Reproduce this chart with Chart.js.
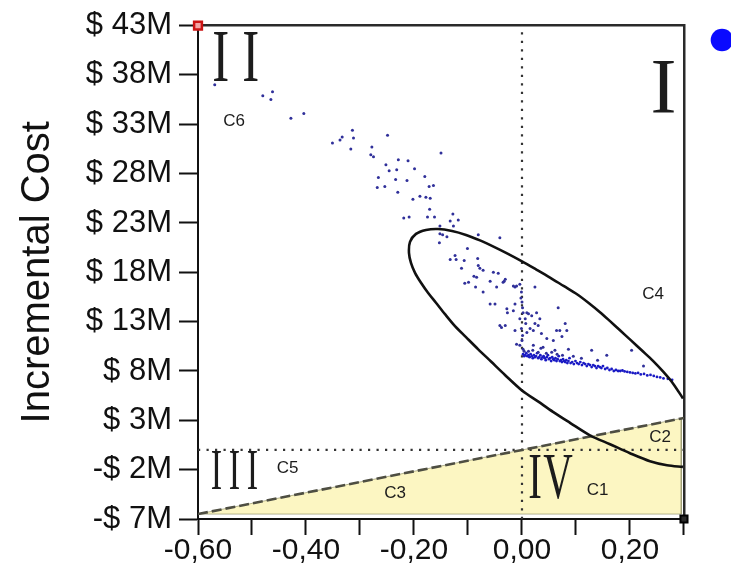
<!DOCTYPE html>
<html>
<head>
<meta charset="utf-8">
<script src="https://cdn.jsdelivr.net/npm/chart.js@4.4.0/dist/chart.umd.min.js"></script>
<style>
  html, body { margin: 0; padding: 0; background: #ffffff; }
  canvas { display: block; }
</style>
</head>
<body>
<canvas id="plane" width="731" height="575"></canvas>
<script>
// Axis limits and tick spacing
const effectRange = [-0.6, 0.3];
const costRange = [-7, 43];
const effectStep = 0.1;
const costStep = 5;

// Simulated (incremental effect, incremental cost in $M) pairs - spread part
const cloudEffect = [
  -0.569, -0.480, -0.462, -0.465, -0.428, -0.404, -0.351, -0.337, -0.333, -0.314,
  -0.312, -0.317, -0.278, -0.280, -0.275, -0.249, -0.252, -0.229, -0.211, -0.246,
  -0.232, -0.199, -0.266, -0.234, -0.213, -0.180, -0.268, -0.254, -0.230, -0.172,
  -0.164, -0.150, -0.202, -0.189, -0.178, -0.170, -0.171, -0.219, -0.209, -0.175,
  -0.162, -0.152, -0.133, -0.128, -0.118, -0.127, -0.152, -0.147, -0.139, -0.081,
  -0.041, -0.153, -0.101, -0.133, -0.124, -0.122, -0.107, -0.082, -0.081, -0.078,
  -0.072, -0.112, -0.089, -0.084, -0.053, -0.044, -0.106, -0.099, -0.086, -0.059,
  -0.047, -0.035, -0.013, -0.010, 0.024, -0.072, -0.031, -0.016, -0.004, -0.033,
  -0.059, -0.050, -0.028, -0.027, -0.013, -0.001, -0.002, 0.001, 0.009, 0.018,
  0.027, 0.067, -0.041, -0.031, -0.004, 0.007, 0.015, 0.030, 0.080, 0.070,
  -0.013, -0.038, -0.016, 0.002, 0.012, 0.006, 0.024, 0.033, -0.001, 0.009,
  0.021, 0.036, 0.064, 0.083, 0.046, 0.058, 0.074, -0.010, -0.004, 0.021,
  0.039, 0.061, 0.086, 0.129, 0.157, 0.203, 0.225, 0.000, 0.001, 0.000,
  0.002, 0.004, 0.012, 0.020, 0.030, 0.035, 0.045, 0.055, 0.065, 0.075,
  0.095, 0.110, 0.140
];
const cloudCost = [
  37.0, 35.9, 36.3, 35.5, 33.6, 34.1, 31.1, 31.4, 31.7, 32.4,
  31.6, 30.5, 30.7, 29.9, 29.7, 31.9, 28.9, 29.4, 29.3, 28.3,
  28.4, 28.5, 27.6, 27.4, 27.3, 27.7, 26.6, 26.7, 26.1, 26.7,
  26.8, 30.1, 25.4, 25.7, 25.6, 25.5, 24.4, 23.5, 23.6, 23.6,
  23.6, 22.7, 23.2, 23.9, 23.3, 22.7, 21.9, 21.8, 21.6, 21.8,
  21.5, 21.0, 20.4, 19.3, 19.7, 19.3, 19.2, 19.4, 18.7, 18.4,
  18.2, 18.4, 17.6, 17.5, 18.0, 17.9, 16.9, 17.0, 16.5, 17.1,
  16.5, 17.0, 16.5, 16.6, 16.5, 16.0, 17.3, 16.6, 16.8, 17.1,
  14.8, 14.8, 14.3, 13.9, 14.8, 16.0, 15.4, 14.4, 13.9, 13.6,
  13.9, 14.4, 12.6, 12.6, 13.3, 12.8, 12.3, 12.6, 12.8, 12.1,
  12.1, 12.4, 14.1, 13.9, 13.8, 13.3, 12.8, 13.3, 12.3, 11.9,
  12.1, 11.8, 12.1, 12.1, 11.3, 11.1, 11.5, 10.7, 10.6, 10.6,
  10.4, 10.1, 10.2, 10.1, 9.6, 10.1, 8.5, 15.0, 11.6, 11.1,
  10.2, 10.0, 10.0, 10.1, 9.9, 10.3, 9.8, 9.9, 9.7, 9.6,
  9.5, 9.3, 9.1
];

// Dense run of simulations just right of zero effect
const bandEffect = [
  0.002, 0.004, 0.006, 0.008, 0.010, 0.012, 0.014, 0.016, 0.018, 0.020,
  0.022, 0.024, 0.026, 0.028, 0.030, 0.032, 0.034, 0.036, 0.038, 0.040,
  0.042, 0.044, 0.046, 0.048, 0.050, 0.052, 0.054, 0.056, 0.058, 0.060,
  0.062, 0.064, 0.066, 0.068, 0.070, 0.072, 0.074, 0.076, 0.078, 0.080,
  0.082, 0.084, 0.086, 0.088, 0.090, 0.093, 0.096, 0.099, 0.102, 0.105,
  0.108, 0.111, 0.114, 0.117, 0.120, 0.123, 0.126, 0.129, 0.132, 0.135,
  0.138, 0.141, 0.144, 0.147, 0.150, 0.154, 0.158, 0.162, 0.166, 0.170,
  0.174, 0.178, 0.182, 0.186, 0.190, 0.195, 0.200, 0.205, 0.210, 0.215,
  0.220, 0.226, 0.232, 0.238, 0.244, 0.250, 0.256, 0.262, 0.270, 0.278
];
const bandCost = [
  9.7, 9.5, 9.6, 9.8, 9.5, 9.6, 9.4, 9.7, 9.5, 9.3,
  9.6, 9.4, 9.5, 9.8, 9.3, 9.4, 9.6, 9.2, 9.4, 9.5,
  9.3, 9.1, 9.4, 9.6, 9.2, 9.3, 9.0, 9.4, 9.2, 9.1,
  9.3, 9.0, 9.2, 9.5, 9.0, 9.1, 8.9, 9.2, 9.0, 8.9,
  9.1, 8.8, 9.0, 9.3, 8.8, 8.9, 8.7, 9.0, 8.8, 8.7,
  8.9, 8.6, 8.8, 8.7, 8.5, 8.7, 8.6, 8.4, 8.6, 8.5,
  8.3, 8.5, 8.4, 8.3, 8.5, 8.2, 8.3, 8.1, 8.2, 8.0,
  8.1, 8.0, 8.0, 8.05, 7.95, 7.9, 7.85, 7.8, 7.75, 7.8,
  7.65, 7.7, 7.55, 7.6, 7.5, 7.4, 7.35, 7.25, 7.2, 7.1
];

// Confidence ellipse outline (clipped by the right border)
const ellipseEffect = [
  0.2981, 0.2685, 0.2370, 0.2000, 0.1630, 0.1259, 0.0889, 0.0574, 0.0296, 0.0000,
  -0.0315, -0.0574, -0.0815, -0.1037, -0.1241, -0.1426, -0.1593, -0.1741, -0.1870, -0.1981,
  -0.2056, -0.2093, -0.2074, -0.1963, -0.1778, -0.1556, -0.1296, -0.1037, -0.0778, -0.0519,
  -0.0259, 0.0000, 0.0259, 0.0519, 0.0778, 0.1019, 0.1241, 0.1444, 0.1630, 0.1815,
  0.2019, 0.2222, 0.2426, 0.2611, 0.2796, 0.2981
];
const ellipseCost = [
  -1.72, -1.55, -1.14, -0.33, 0.58, 1.48, 2.75, 3.86, 4.92, 6.03,
  7.60, 8.96, 10.22, 11.43, 12.55, 13.76, 14.92, 15.93, 16.94, 17.95,
  18.96, 19.97, 21.08, 21.89, 22.29, 22.39, 22.19, 21.79, 21.23, 20.58,
  19.87, 19.11, 18.30, 17.47, 16.59, 15.78, 14.87, 13.96, 13.05, 12.12,
  11.10, 10.07, 9.03, 7.95, 6.74, 5.22
];

// Willingness-to-pay threshold line
const wtpEffect = [-0.6, 0.3];
const wtpCost = [-6.5, 3.24];

// Shaded acceptability region below the threshold
const acceptEffect = [-0.6, 0.295, 0.295, -0.6];
const acceptCost = [-6.5, 3.19, -6.5, -6.5];

// Extreme simulation markers
const maxMarker = [-0.6, 43];
const minMarker = [0.3, -7];

// Zero-effect / zero-cost reference
const zeroEffect = 0;
const zeroCost = 0;

// Curve and quadrant annotations, placed in data units
const curveTags = [
  { text: 'C1', at: [0.140, -4.07] },
  { text: 'C2', at: [0.2556, 1.23] },
  { text: 'C3', at: [-0.235, -4.4] },
  { text: 'C4', at: [0.243, 15.8] },
  { text: 'C5', at: [-0.434, -1.83] },
  { text: 'C6', at: [-0.533, 33.3] }
];
const quadrantTags = [
  { text: 'I',   at: [0.262, 36.33],  size: 78, sx: 1.0,  gap: 0 },
  { text: 'II',  at: [-0.5302, 39.36], size: 75, sx: 0.68, gap: 30 },
  { text: 'III', at: [-0.5324, -2.45], size: 57, sx: 0.6,  gap: 18 },
  { text: 'IV',  at: [0.0454, -3.16],  size: 66, sx: 0.62, gap: 23 }
];

const pairs = (xs, ys) => xs.map((v, i) => ({ x: v, y: ys[i] }));

const sans = '"Liberation Sans", Arial, sans-serif';
const serif = '"Liberation Serif", "Times New Roman", serif';

const tagPlugin = {
  id: 'planeTags',
  afterDatasetsDraw(chart) {
    const { ctx, scales: { x, y } } = chart;
    ctx.save();
    ctx.fillStyle = '#1c1c1c';
    ctx.textAlign = 'center';
    ctx.textBaseline = 'middle';
    ctx.font = '17px ' + sans;
    curveTags.forEach(t => {
      ctx.fillText(t.text, x.getPixelForValue(t.at[0]), y.getPixelForValue(t.at[1]));
    });
    quadrantTags.forEach(q => {
      ctx.font = q.size + 'px ' + serif;
      const cx = x.getPixelForValue(q.at[0]);
      const cy = y.getPixelForValue(q.at[1]);
      const chars = q.text.split('');
      chars.forEach((ch, i) => {
        const px = cx + (i - (chars.length - 1) / 2) * q.gap;
        ctx.save();
        ctx.translate(px, cy);
        ctx.scale(q.sx, 1);
        ctx.fillText(ch, 0, 0);
        ctx.restore();
      });
    });
    ctx.restore();
  }
};

const fmtEffect = v => {
  const tenths = Math.round(v * 10);
  if (tenths % 2 !== 0) return '';
  return (tenths / 10).toFixed(2).replace('.', ',');
};
const fmtCost = v => (v < 0 ? '-$ ' + Math.abs(v) : '$ ' + v) + 'M';

new Chart(document.getElementById('plane'), {
  type: 'scatter',
  data: {
    datasets: [
      {
        label: 'Simulations',
        data: pairs(cloudEffect, cloudCost),
        pointRadius: 1.5,
        pointBackgroundColor: '#30309a',
        pointBorderWidth: 0,
        order: 3
      },
      {
        label: 'Simulations (dense)',
        data: pairs(bandEffect, bandCost),
        pointRadius: 1.4,
        pointBackgroundColor: '#1a1ac4',
        pointBorderWidth: 0,
        order: 3
      },
      {
        label: 'Acceptability region',
        data: pairs(acceptEffect, acceptCost),
        showLine: true,
        fill: 'shape',
        backgroundColor: '#fcf6c2',
        borderColor: 'rgba(150,150,110,0.7)',
        borderWidth: 1,
        pointRadius: 0,
        order: 10
      },
      {
        label: 'Zero effect',
        data: [{ x: zeroEffect, y: costRange[0] }, { x: zeroEffect, y: costRange[1] }],
        showLine: true,
        borderColor: '#333333',
        borderWidth: 2.2,
        borderDash: [2.2, 6.3],
        pointRadius: 0,
        order: 8
      },
      {
        label: 'Zero cost',
        data: [{ x: effectRange[0], y: zeroCost }, { x: effectRange[1], y: zeroCost }],
        showLine: true,
        borderColor: '#333333',
        borderWidth: 2.2,
        borderDash: [2.2, 6.3],
        pointRadius: 0,
        order: 8
      },
      {
        label: 'Threshold',
        data: pairs(wtpEffect, wtpCost),
        showLine: true,
        borderColor: '#4e4e42',
        borderWidth: 2.6,
        borderDash: [10, 4],
        pointRadius: 0,
        order: 2
      },
      {
        label: 'Ellipse',
        data: pairs(ellipseEffect, ellipseCost),
        showLine: true,
        tension: 0.3,
        borderColor: '#111111',
        borderWidth: 2.6,
        pointRadius: 0,
        order: 1
      },
      {
        label: 'Maximum',
        data: [{ x: maxMarker[0], y: maxMarker[1] }],
        pointStyle: 'rect',
        pointRadius: 5.5,
        pointBackgroundColor: '#f3a4a4',
        pointBorderColor: '#cc1414',
        pointBorderWidth: 2.5,
        clip: false,
        order: 0
      },
      {
        label: 'Minimum',
        data: [{ x: minMarker[0], y: minMarker[1] }],
        pointStyle: 'rect',
        pointRadius: 5,
        pointBackgroundColor: '#2a2a2a',
        pointBorderColor: '#000000',
        pointBorderWidth: 2,
        clip: false,
        order: 0
      }
    ]
  },
  options: {
    responsive: false,
    animation: false,
    devicePixelRatio: 1,
    layout: { padding: 0 },
    plugins: {
      tooltip: { enabled: false },
      legend: {
        display: true,
        position: 'right',
        align: 'start',
        rtl: true,
        title: { display: true, text: '', font: { size: 2.5 }, padding: 0 },
        labels: {
          usePointStyle: true,
          boxWidth: 0.01,
          boxHeight: 16,
          padding: 9,
          font: { size: 56, family: sans },
          generateLabels: () => [{
            text: '',
            fillStyle: '#0a0aff',
            strokeStyle: '#0a0aff',
            lineWidth: 0,
            pointStyle: 'circle',
            hidden: false,
            datasetIndex: 0
          }]
        }
      }
    },
    scales: {
      x: {
        type: 'linear',
        position: 'bottom',
        min: effectRange[0],
        max: effectRange[1],
        afterFit: s => { s.height = 56; },
        ticks: {
          stepSize: effectStep,
          autoSkip: false,
          maxRotation: 0,
          padding: -2,
          color: '#111111',
          font: { size: 30, family: sans },
          callback: fmtEffect
        },
        grid: {
          drawOnChartArea: false,
          drawTicks: true,
          tickLength: 16,
          tickWidth: 2,
          tickColor: '#111111'
        },
        border: { display: true, color: '#111111', width: 2 }
      },
      y: {
        type: 'linear',
        position: 'left',
        min: costRange[0],
        max: costRange[1],
        afterFit: s => { s.width = 198; },
        ticks: {
          stepSize: costStep,
          padding: 7,
          color: '#111111',
          font: { size: 31, family: sans },
          callback: fmtCost
        },
        grid: {
          drawOnChartArea: false,
          drawTicks: true,
          tickLength: 19,
          tickWidth: 2,
          tickColor: '#111111'
        },
        border: { display: true, color: '#111111', width: 2 },
        title: {
          display: true,
          text: 'Incremental Cost',
          color: '#111111',
          font: { size: 40, family: sans },
          padding: { top: 14, bottom: 0 }
        }
      },
      xTop: {
        type: 'linear',
        position: 'top',
        min: effectRange[0],
        max: effectRange[1],
        afterFit: s => { s.height = 24; },
        ticks: { display: false },
        grid: { drawOnChartArea: false, drawTicks: false },
        border: { display: true, color: '#2a2a2a', width: 2.5 }
      },
      yRight: {
        type: 'linear',
        position: 'right',
        min: costRange[0],
        max: costRange[1],
        afterFit: s => { s.width = 0; },
        ticks: { display: false },
        grid: { drawOnChartArea: false, drawTicks: false },
        border: { display: true, color: '#2a2a2a', width: 2.5 }
      }
    }
  },
  plugins: [tagPlugin]
});
</script>
</body>
</html>
